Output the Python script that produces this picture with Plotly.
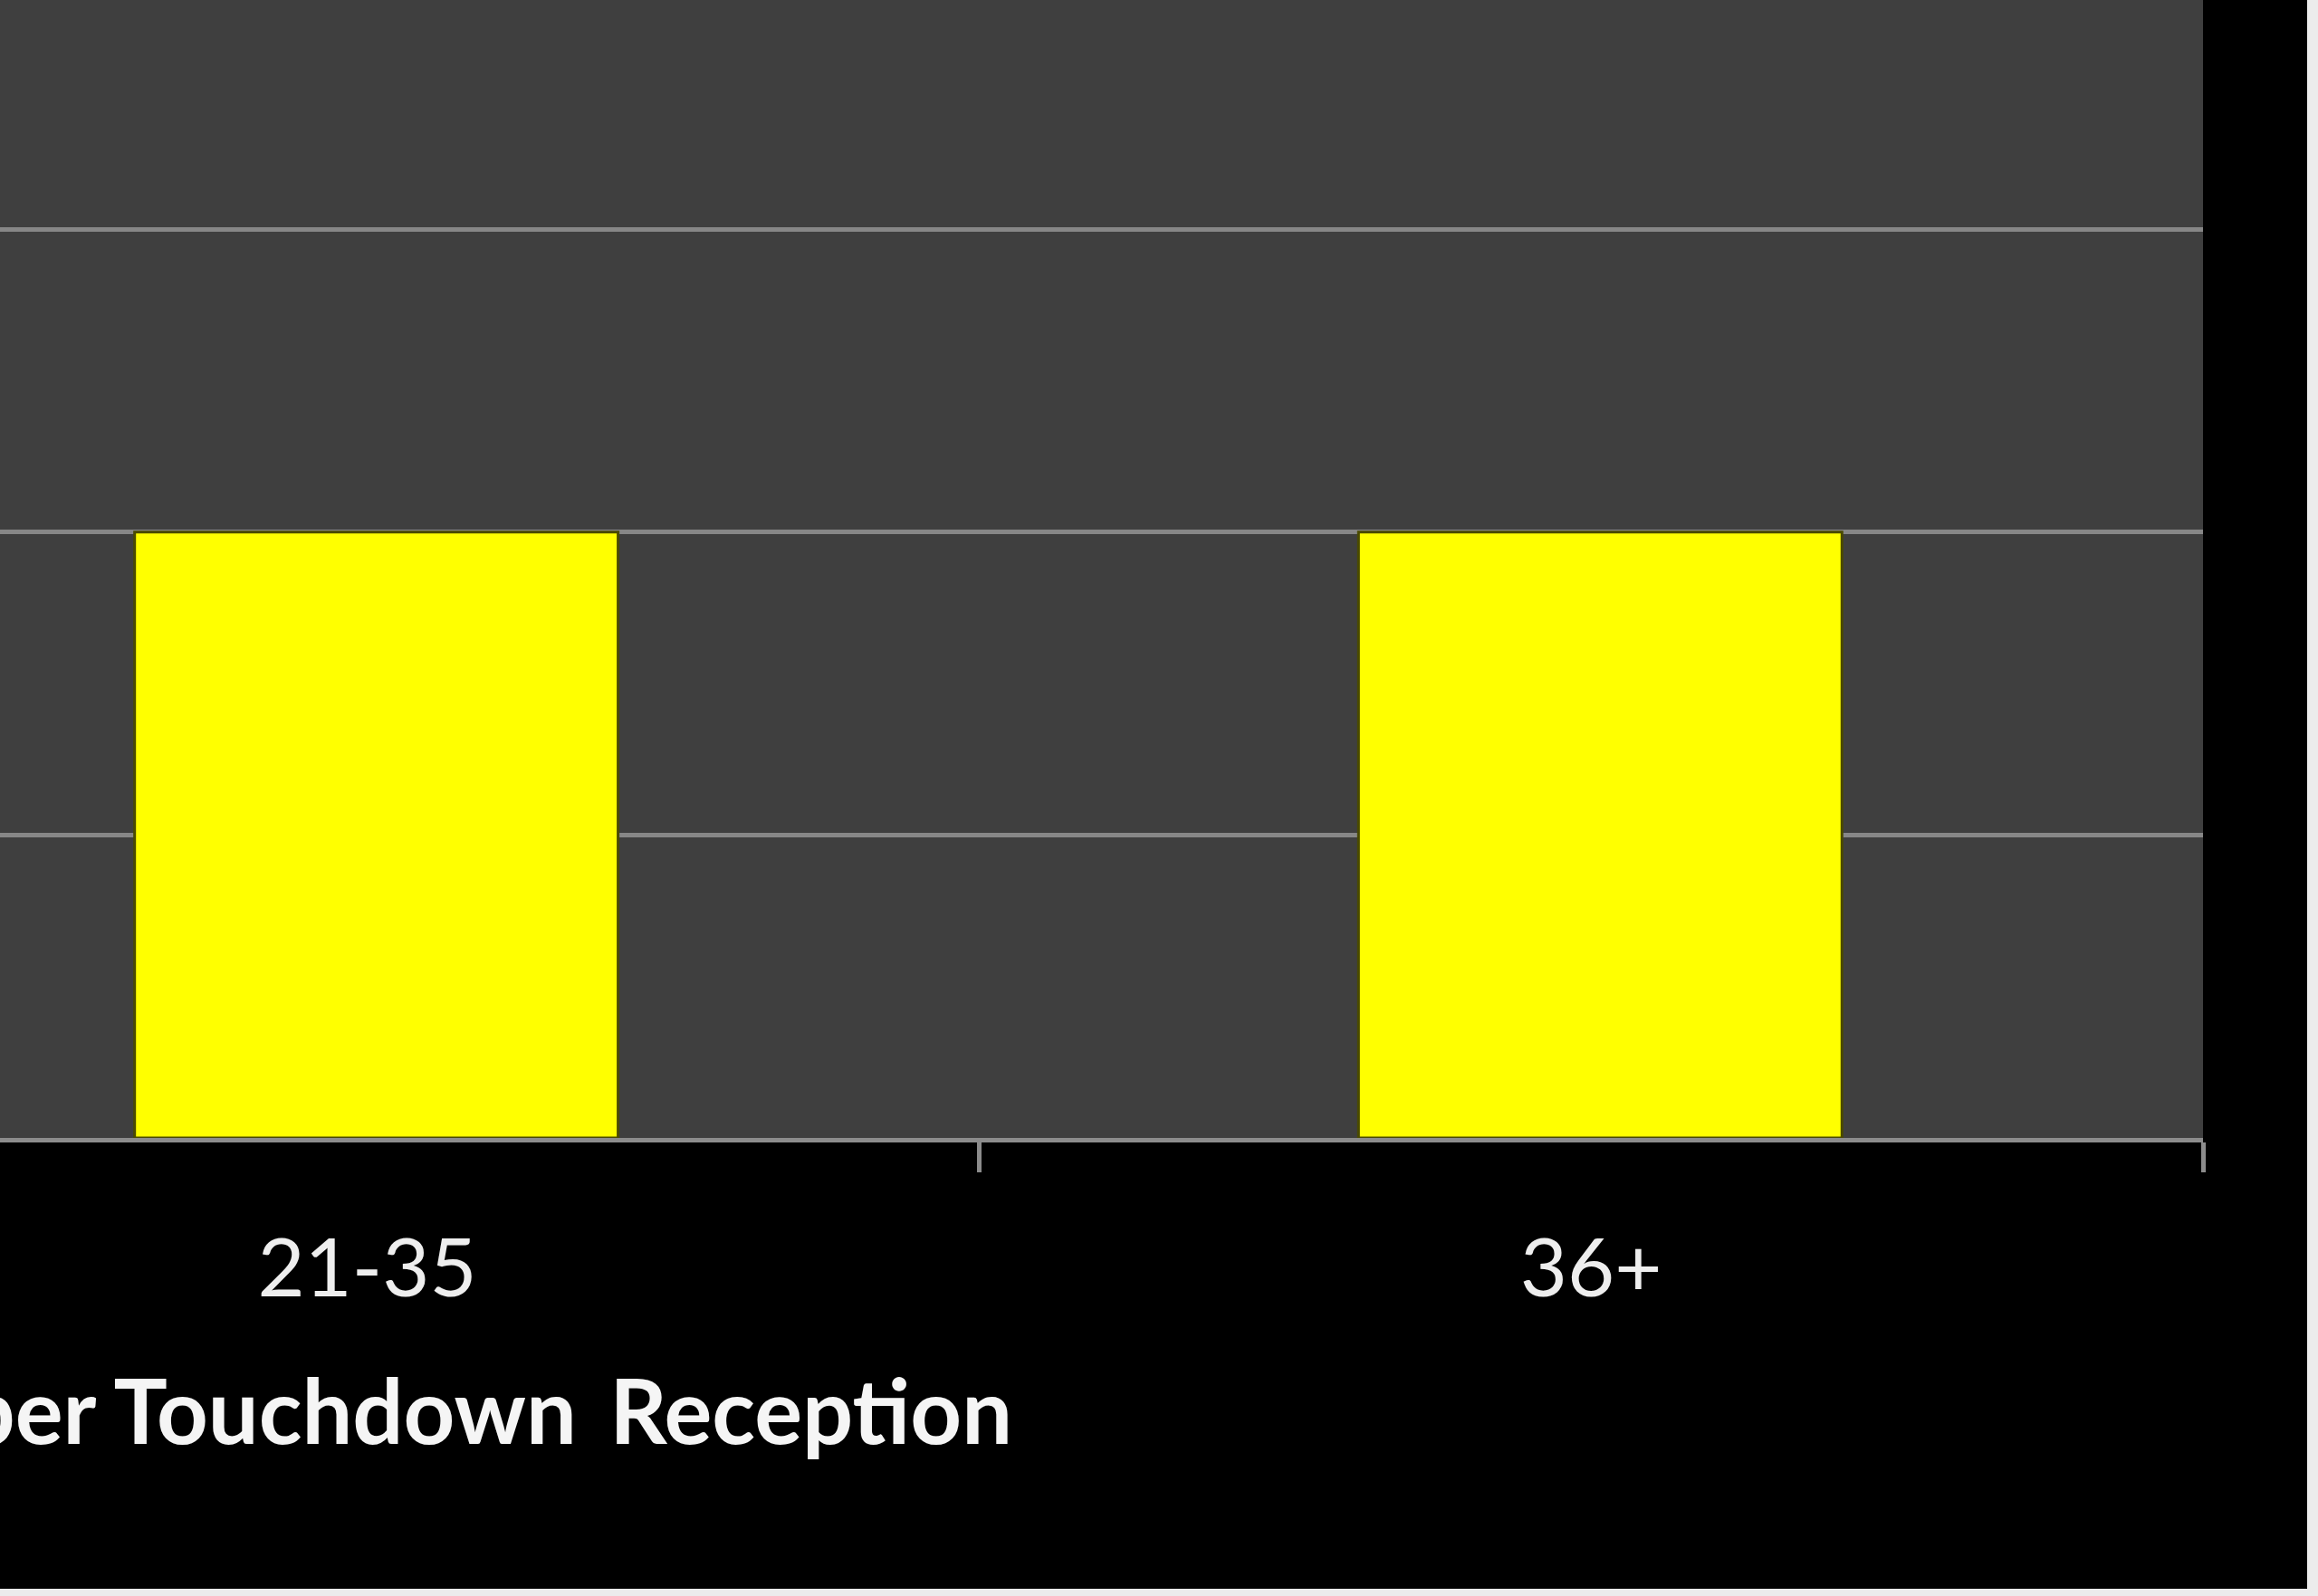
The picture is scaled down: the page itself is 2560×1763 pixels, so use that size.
import plotly.graph_objects as go

# Visible part of the chart: last two bins of yards per TD reception
categories = ["21-35", "36+"]
counts = [2, 2]
axisTitle = "Yards per Touchdown\u00a0\u2009Reception"

figW = 2560
figH = 1763
plotRight = 2433   # px where the grey plot area stops
plotBottom = 1257  # px of the x axis line

fig = go.Figure()

fig.add_trace(go.Bar(
    x=categories,
    y=counts,
    width=0.395,
    offset=-0.19,
    marker=dict(color="#ffff00", line=dict(color="#4a4a00", width=3)),
    hoverinfo="skip",
))

# axis title sits under the plot, left part is cropped off the picture
fig.add_annotation(
    text="<b>" + axisTitle + "</b>",
    xref="paper", yref="paper",
    x=1120 / plotRight, y=(plotBottom - 1556) / plotBottom,
    xanchor="right", yanchor="middle",
    showarrow=False,
    font=dict(family="Lato", size=99, color="#f5f5f5"),
)

# thin light strips at the right and bottom edge of the screenshot
stripColor = "#ececec"
fig.add_shape(type="rect", xref="paper", yref="paper", layer="above",
              x0=2548 / plotRight, x1=figW / plotRight + 0.01,
              y0=(plotBottom - figH) / plotBottom - 0.01, y1=1.01,
              fillcolor=stripColor, line=dict(width=0))
fig.add_shape(type="rect", xref="paper", yref="paper", layer="above",
              x0=-0.01, x1=figW / plotRight + 0.01,
              y0=(plotBottom - figH) / plotBottom - 0.01,
              y1=(plotBottom - 1755) / plotBottom,
              fillcolor=stripColor, line=dict(width=0))

fig.update_xaxes(
    type="category",
    range=[-0.3, 1.5],
    showgrid=False,
    showline=True, linecolor="#8c8c8c", linewidth=5,
    ticks="outside", tickson="boundaries", ticklen=33, tickwidth=5, tickcolor="#8c8c8c",
    ticklabelstandoff=62,
    tickfont=dict(family="Lato", size=90, color="#eeeeee"),
    zeroline=False,
)
fig.update_yaxes(
    range=[0, 3.756],
    dtick=1,
    showticklabels=False,
    showgrid=True, gridcolor="#878787", gridwidth=5,
    zeroline=False,
    showline=False,
)

fig.update_layout(
    width=figW, height=figH,
    margin=dict(l=0, r=figW - plotRight, t=0, b=figH - plotBottom, pad=0),
    paper_bgcolor="#000000",
    plot_bgcolor="#3f3f3f",
    showlegend=False,
)

fig.write_html("out.html", config={"displayModeBar": False},
               post_script="document.body.style.margin='0';")
